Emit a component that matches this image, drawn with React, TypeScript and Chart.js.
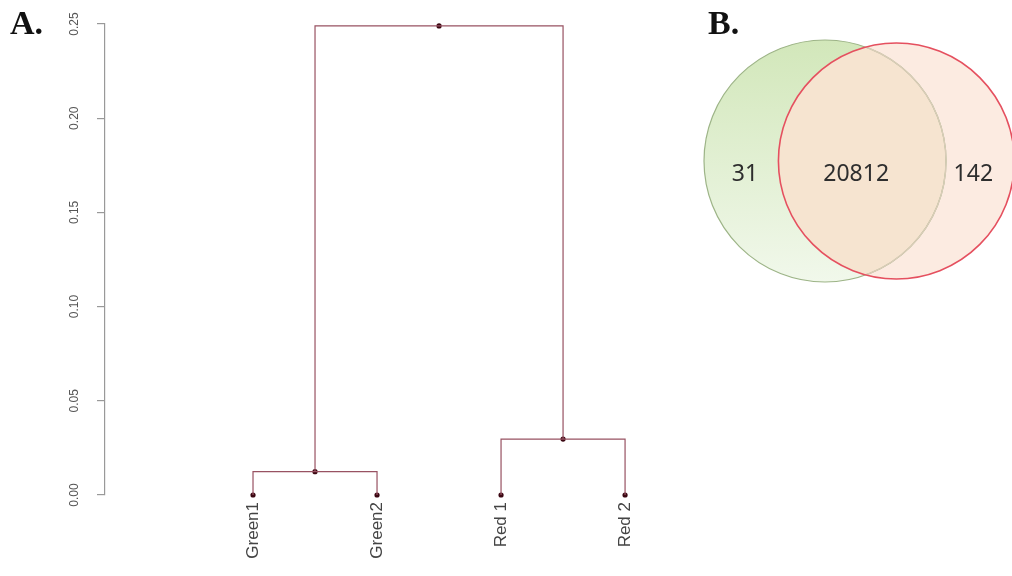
import React, { useEffect, useRef } from 'react';
import { Chart, registerables } from 'chart.js';

Chart.register(...registerables);

// ---- Dendrogram data (panel A) ----
const leafLabels = ['Green1', 'Green2', 'Red 1', 'Red 2'];
const leafPositions = [1, 2, 3, 4];
// merge order: (Green1, Green2), (Red 1, Red 2), root
const mergePairs = [[0, 1], [2, 3], [4, 5]];
const mergeHeights = [0.0124, 0.0297, 0.249];
const yTicks = [0, 0.05, 0.1, 0.15, 0.2, 0.25];

// ---- Venn data (panel B) ----
const vennSetNames = ['Green', 'Red'];
const vennCenters = [0, 0.59];
const vennRadii = [1, 0.975];
const vennCounts = [31, 20812, 142]; // Green only, both, Red only

const FONT = "'Liberation Sans', Arial, sans-serif";

function buildDendrogram() {
  const nodes = leafPositions.map((x) => ({ x, y: 0 }));
  const segments: { x: number; y: number }[][] = [];
  mergePairs.forEach(([a, b], i) => {
    const A = nodes[a];
    const B = nodes[b];
    const h = mergeHeights[i];
    segments.push([
      { x: A.x, y: A.y },
      { x: A.x, y: h },
      { x: B.x, y: h },
      { x: B.x, y: B.y },
    ]);
    nodes.push({ x: (A.x + B.x) / 2, y: h });
  });
  return { nodes, segments };
}

const vennPlugin = {
  id: 'vennDraw',
  afterDatasetsDraw(chart: any) {
    const { ctx } = chart;
    const xs = chart.scales.x;
    const ys = chart.scales.y;
    const px = (v: number) => xs.getPixelForValue(v);
    const py = (v: number) => ys.getPixelForValue(v);
    const circles = vennCenters.map((c, i) => {
      const cx = px(c);
      const cy = py(0);
      const rx = Math.abs(px(c + vennRadii[i]) - cx);
      const ry = Math.abs(py(vennRadii[i]) - cy);
      return { cx, cy, rx, ry };
    });
    const path = (c: any) => {
      ctx.beginPath();
      ctx.ellipse(c.cx, c.cy, c.rx, c.ry, 0, 0, Math.PI * 2);
    };
    const [g, r] = circles;
    ctx.save();
    // green fill
    const grad = ctx.createLinearGradient(0, g.cy - g.ry, 0, g.cy + g.ry);
    grad.addColorStop(0, '#d2e7ba');
    grad.addColorStop(1, '#f1f8eb');
    path(g);
    ctx.fillStyle = grad;
    ctx.fill();
    // red fill
    path(r);
    ctx.fillStyle = '#fcebe1';
    ctx.fill();
    // intersection
    ctx.save();
    path(g);
    ctx.clip();
    path(r);
    ctx.fillStyle = '#f6e4d0';
    ctx.fill();
    ctx.restore();
    // green stroke
    path(g);
    ctx.strokeStyle = '#9db487';
    ctx.lineWidth = 1.2;
    ctx.stroke();
    ctx.save();
    path(r);
    ctx.clip();
    path(g);
    ctx.strokeStyle = '#d9ccb7';
    ctx.lineWidth = 1.4;
    ctx.stroke();
    ctx.restore();
    // red stroke
    path(r);
    ctx.strokeStyle = '#e5505f';
    ctx.lineWidth = 1.6;
    ctx.stroke();

    // counts
    const gL = vennCenters[0] - vennRadii[0];
    const gR = vennCenters[0] + vennRadii[0];
    const rL = vennCenters[1] - vennRadii[1];
    const rR = vennCenters[1] + vennRadii[1];
    const labelX = [gL + 0.55 * (rL - gL), (rL + gR) / 2 - 0.05, gR + 0.4 * (rR - gR)];
    ctx.fillStyle = '#2e2e2e';
    ctx.font = "23px 'Noto Sans', 'Open Sans', sans-serif";
    ctx.textAlign = 'center';
    ctx.textBaseline = 'middle';
    vennCounts.forEach((n, i) => {
      ctx.fillText(String(n), px(labelX[i]), py(0) + 13);
    });
    ctx.restore();
  },
};

export default function App() {
  const dendroRef = useRef<HTMLCanvasElement>(null);
  const vennRef = useRef<HTMLCanvasElement>(null);

  useEffect(() => {
    const { nodes, segments } = buildDendrogram();
    const lineColor = '#985262';
    const datasets: any[] = segments.map((seg, i) => ({
      label: 'branch' + i,
      data: seg,
      borderColor: lineColor,
      borderWidth: 1.2,
      pointRadius: 0,
      tension: 0,
      fill: false,
      clip: false,
    }));
    datasets.push({
      label: 'nodes',
      data: nodes,
      showLine: false,
      pointRadius: 2.6,
      pointBackgroundColor: '#3b0712',
      pointBorderColor: '#3b0712',
      pointBorderWidth: 0,
      clip: false,
    });

    const dendro = new Chart(dendroRef.current!, {
      type: 'line',
      data: { datasets },
      options: {
        animation: false,
        responsive: false,
        layout: { padding: { left: 0, top: 24, right: 20, bottom: 0 } },
        plugins: { legend: { display: false }, tooltip: { enabled: false } },
        scales: {
          x: {
            type: 'linear',
            min: -0.1935,
            max: 4.443,
            afterBuildTicks: (s: any) => {
              s.ticks = leafPositions.map((v) => ({ value: v }));
            },
            afterFit: (s: any) => {
              s.height = 81;
            },
            ticks: {
              minRotation: 90,
              maxRotation: 90,
              autoSkip: false,
              padding: 7,
              color: '#444',
              font: { family: FONT, size: 17 },
              callback: (v: any) => {
                const idx = leafPositions.indexOf(Number(v));
                return idx >= 0 ? leafLabels[idx] : '';
              },
            },
            grid: { display: false, drawTicks: false },
            border: { display: false },
          },
          y: {
            type: 'linear',
            min: 0,
            max: 0.25,
            afterBuildTicks: (s: any) => {
              s.ticks = yTicks.map((v) => ({ value: v }));
            },
            afterFit: (s: any) => {
              s.width = 105;
            },
            ticks: {
              minRotation: 90,
              maxRotation: 90,
              crossAlign: 'center',
              padding: 11,
              color: '#555',
              font: { family: FONT, size: 12 },
              callback: (v: any) => Number(v).toFixed(2),
            },
            grid: {
              drawOnChartArea: false,
              drawTicks: true,
              tickLength: 8,
              tickColor: '#999',
              lineWidth: 1.2,
            },
            border: { display: true, color: '#999', width: 1.2 },
          },
        },
      } as any,
    });

    const venn = new Chart(vennRef.current!, {
      type: 'scatter',
      data: {
        datasets: vennSetNames.map((name, i) => ({
          label: name,
          data: [{ x: vennCenters[i], y: 0 }],
          pointRadius: 0,
        })),
      },
      options: {
        animation: false,
        responsive: false,
        layout: { padding: 0 },
        plugins: { legend: { display: false }, tooltip: { enabled: false } },
        scales: {
          x: { type: 'linear', min: -1.1157, max: 1.5455, display: false },
          y: { type: 'linear', min: -1.1488, max: 1.3306, display: false },
        },
      } as any,
      plugins: [vennPlugin],
    });

    return () => {
      dendro.destroy();
      venn.destroy();
    };
  }, []);

  const panelLabel: React.CSSProperties = {
    position: 'absolute',
    fontFamily: "'Liberation Serif', 'Times New Roman', serif",
    fontWeight: 'bold',
    fontSize: 34,
    lineHeight: '34px',
    color: '#111',
  };

  return (
    <div
      style={{
        position: 'fixed',
        left: 0,
        top: 0,
        width: 1012,
        height: 576,
        background: '#fff',
        overflow: 'hidden',
      }}
    >
      <canvas
        ref={dendroRef}
        width={700}
        height={576}
        style={{ position: 'absolute', left: 0, top: 0, width: 700, height: 576 }}
      />
      <canvas
        ref={vennRef}
        width={322}
        height={300}
        style={{ position: 'absolute', left: 690, top: 0, width: 322, height: 300 }}
      />
      <div style={{ ...panelLabel, left: 10, top: 6 }}>A.</div>
      <div style={{ ...panelLabel, left: 708, top: 6 }}>B.</div>
    </div>
  );
}
